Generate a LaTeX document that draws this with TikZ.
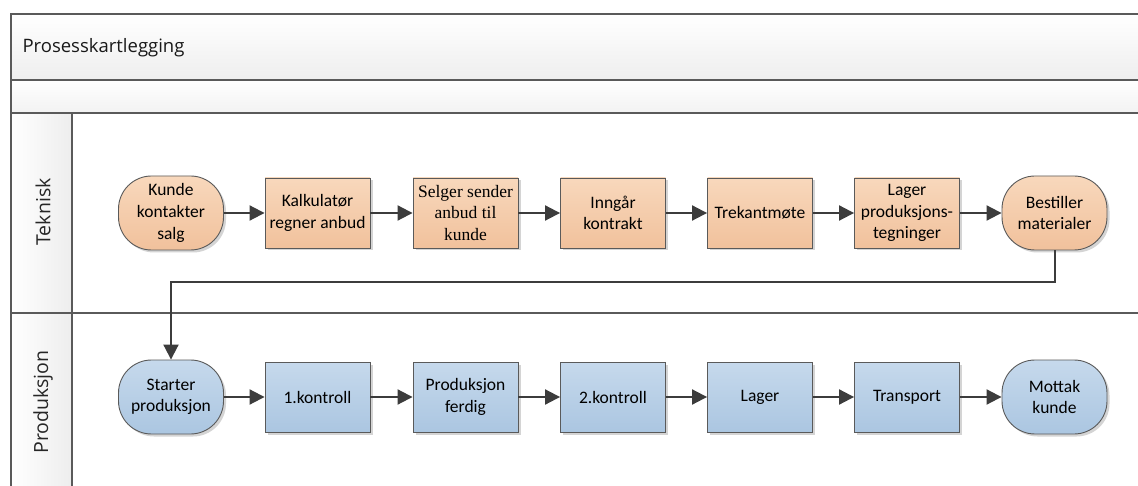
\documentclass[tikz,border=0pt]{standalone}
\usepackage{fontspec}
\setmainfont{Carlito}
\newfontfamily\headfont{Open Sans}
\newfontfamily\timesfont{Liberation Serif}
\usetikzlibrary{arrows.meta,shadows}

\definecolor{framegray}{HTML}{5A5A5A}
\definecolor{flowgray}{HTML}{3C3C3C}
\definecolor{orangetop}{HTML}{F8D8BC}
\definecolor{orangebot}{HTML}{F1C19C}
\definecolor{bluetop}{HTML}{C6D9EC}
\definecolor{bluebot}{HTML}{ABC6E1}
\definecolor{bandtop}{HTML}{FFFFFF}
\definecolor{bandbot}{HTML}{EEEEEE}

\tikzset{
  frameline/.style={draw=framegray, line width=1.6pt},
  lanelabel/.style={rotate=90, font=\headfont\fontsize{19.5}{23}\selectfont, text=black!85},
  stepbase/.style={draw=framegray, line width=0.9pt, align=center, text=black,
    font=\fontsize{17.5}{21.6}\selectfont, inner sep=0pt,
    drop shadow={shadow xshift=2.5pt, shadow yshift=-2.5pt, fill=black!28, opacity=0.6}},
  orangefill/.style={top color=orangetop, bottom color=orangebot},
  bluefill/.style={top color=bluetop, bottom color=bluebot},
  procbox/.style={stepbase, rectangle, minimum width=105pt, minimum height=70pt},
  termbox/.style={stepbase, rectangle, rounded corners=33pt, minimum width=105pt, minimum height=74pt},
  flow/.style={draw=flowgray, line width=2pt, -{Triangle[length=15pt, width=15pt]}},
}

\begin{document}
\begin{tikzpicture}[x=1pt, y=-1pt]
  \useasboundingbox (0,0) rectangle (1138,486);
  \fill[white] (0,0) rectangle (1138,486);

  % pool header and band
  \shade[top color=bandtop, bottom color=bandbot] (11,14) rectangle (1138,80);
  \shade[top color=white, bottom color=black!5] (11,80) rectangle (1138,113);
  % lane header column
  \shade[left color=white, right color=black!7] (11,113) rectangle (72,486);

  \draw[frameline] (1138,14) -- (11,14) -- (11,486);
  \draw[frameline] (11,80) -- (1138,80);
  \draw[frameline] (11,113) -- (1138,113);
  \draw[frameline] (11,313) -- (1138,313);
  \draw[frameline] (72,113) -- (72,486);

  \node[anchor=west, font=\headfont\fontsize{18.5}{22}\selectfont, text=black!90] (title) at (19,48) {Prosesskartlegging};
  \node[lanelabel] (lane1) at (43,212) {Teknisk};
  \node[lanelabel] (lane2) at (43,402) {Produksjon};

  % Teknisk lane
  \node[termbox, orangefill] (kunde) at (171,213) {Kunde\\kontakter\\salg};
  \node[procbox, orangefill] (kalk) at (317.5,213) {Kalkulatør\\regner anbud};
  \node[procbox, orangefill, font=\timesfont\fontsize{17.5}{21.6}\selectfont] (selger) at (465.5,213) {Selger sender\\anbud til\\kunde};
  \node[procbox, orangefill] (inngar) at (613,213) {Inngår\\kontrakt};
  \node[procbox, orangefill] (trekant) at (760,213) {Trekantmøte};
  \node[procbox, orangefill] (lagerteg) at (907,213) {Lager\\produksjons-\\tegninger};
  \node[termbox, orangefill] (bestiller) at (1054.5,213) {Bestiller\\materialer};

  % Produksjon lane
  \node[termbox, bluefill] (starter) at (171,397) {Starter\\produksjon};
  \node[procbox, bluefill] (kontroll1) at (317.5,397) {1.kontroll};
  \node[procbox, bluefill] (ferdig) at (465.5,397) {Produksjon\\ferdig};
  \node[procbox, bluefill] (kontroll2) at (613,397) {2.kontroll};
  \node[procbox, bluefill] (lager) at (760,397) {Lager};
  \node[procbox, bluefill] (transport) at (907,397) {Transport};
  \node[termbox, bluefill] (mottak) at (1054.5,397) {Mottak\\kunde};

  % flow connectors
  \draw[flow] (kunde) -- (kalk);
  \draw[flow] (kalk) -- (selger);
  \draw[flow] (selger) -- (inngar);
  \draw[flow] (inngar) -- (trekant);
  \draw[flow] (trekant) -- (lagerteg);
  \draw[flow] (lagerteg) -- (bestiller);

  \coordinate (handoff) at (0,282);
  \draw[flow] (bestiller.south) |- (starter.north |- handoff) -- (starter.north);

  \draw[flow] (starter) -- (kontroll1);
  \draw[flow] (kontroll1) -- (ferdig);
  \draw[flow] (ferdig) -- (kontroll2);
  \draw[flow] (kontroll2) -- (lager);
  \draw[flow] (lager) -- (transport);
  \draw[flow] (transport) -- (mottak);
\end{tikzpicture}
\end{document}
